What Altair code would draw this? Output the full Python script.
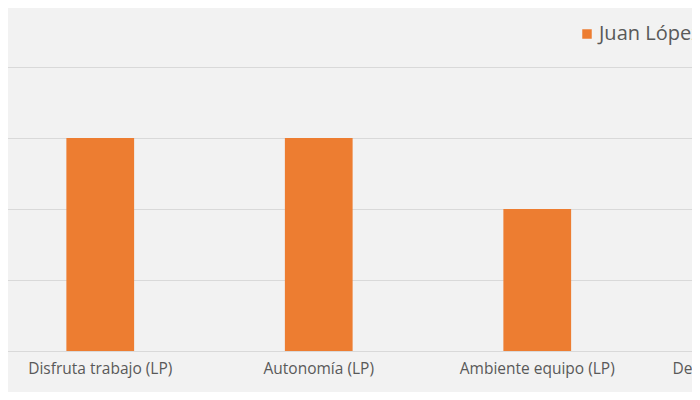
import altair as alt
import pandas as pd

categories = ["Disfruta trabajo (LP)", "Autonomía (LP)", "Ambiente equipo (LP)", "Decisiones propias (LP)"]
values = [3, 3, 2, 3]
series = ["Juan López"] * len(categories)

df = pd.DataFrame({"categoria": categories, "valor": values, "serie": series})

FONT = "Open Sans"
TEXT = "#595959"

chart = alt.Chart(df).mark_bar(color="#ED7D31").encode(
    x=alt.X("categoria:N", sort=categories, title=None,
            scale=alt.Scale(paddingInner=0.69, paddingOuter=0.345),
            axis=alt.Axis(labelAngle=0, labelFont=FONT, labelFontSize=15.5, labelColor=TEXT,
                          labelPadding=10, ticks=False, domainColor="#d9d9d9", domainWidth=1.2,
                          labelLimit=300)),
    y=alt.Y("valor:Q", title=None, scale=alt.Scale(domain=[0, 4], nice=False),
            axis=alt.Axis(values=[0, 1, 2, 3, 4], labels=False, ticks=False, domain=False,
                          gridColor="#d9d9d9", gridWidth=1.2)),
    color=alt.Color("serie:N", scale=alt.Scale(range=["#ED7D31"]),
                    legend=alt.Legend(title=None, orient="none", legendX=586, legendY=-43,
                                      symbolType="square", symbolSize=90, symbolStrokeWidth=0,
                                      labelFont=FONT, labelFontSize=20, labelColor=TEXT,
                                      labelOffset=2)),
).properties(
    width=874,
    height=284,
    background="#f2f2f2",
    autosize=alt.AutoSizeParams(type="none"),
    padding={"left": -17, "top": 59, "right": -173, "bottom": 41},
).configure_view(stroke=None)

chart.save("out.html", embed_options={"renderer": "svg", "actions": False})
